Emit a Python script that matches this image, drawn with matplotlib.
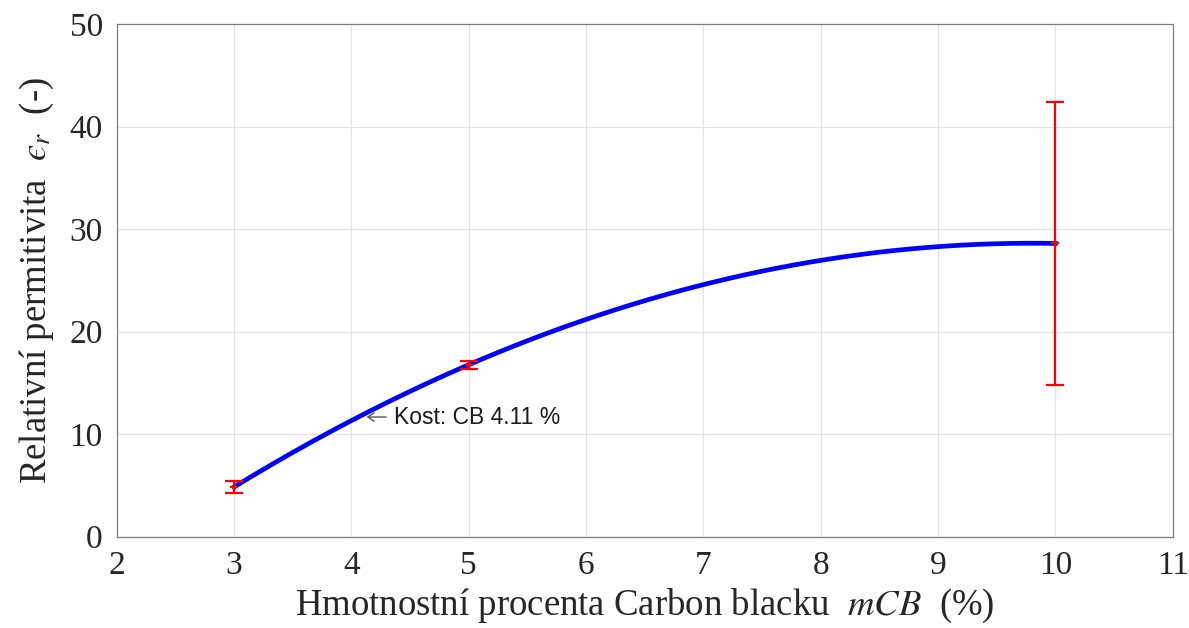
import numpy as np
import matplotlib
matplotlib.use("Agg")
import matplotlib.pyplot as plt

# Measured relative permittivity vs. carbon black mass fraction
cb_percent = [3, 5, 10]
permittivity = [4.85, 16.77, 28.6]
perm_error = [0.6, 0.4, 13.8]

# Point annotated on the fitted curve
cost_cb = 4.11
cost_label = "Kost: CB 4.11 %"

x_ticks = [2, 3, 4, 5, 6, 7, 8, 9, 10, 11]
y_ticks = [0, 10, 20, 30, 40, 50]

plt.rcParams["mathtext.fontset"] = "stix"
serif = ["Liberation Serif", "DejaVu Serif"]

fig = plt.figure(figsize=(11.89, 6.28), dpi=100)
ax = fig.add_axes([116.7 / 1189, 1 - 536.7 / 628, (1172.7 - 116.7) / 1189, (536.7 - 24) / 628])

# Quadratic fit through the measurements
coef = np.polyfit(cb_percent, permittivity, 2)
xs = np.linspace(min(cb_percent), max(cb_percent), 300)
ax.plot(xs, np.polyval(coef, xs), color="#0000ff", lw=3.4, zorder=3)

ax.errorbar(cb_percent, permittivity, yerr=perm_error, fmt="+", color="#ff0000",
            ecolor="#ff0000", elinewidth=1.6, capsize=6.5, capthick=1.6,
            markersize=6, mew=1.6, zorder=4)

# Label with a thin leftward arrow pointing at the curve
yc = np.polyval(coef, cost_cb) - 0.3
ax.annotate("", xy=(cost_cb + 0.02, yc), xytext=(14, 0), textcoords="offset points",
            arrowprops=dict(arrowstyle="->,head_length=0.45,head_width=0.3",
                            color="#555555", lw=1.0, shrinkA=0, shrinkB=0),
            zorder=5)
ax.annotate(cost_label, xy=(cost_cb, yc), xytext=(21.5, 0),
            textcoords="offset points", fontsize=16.5,
            family=["Liberation Sans", "DejaVu Sans"],
            va="center", ha="left", color="#1a1a1a", zorder=5)

ax.set_xlim(2, 11)
ax.set_ylim(0, 50)
ax.set_xticks(x_ticks)
ax.set_yticks(y_ticks)
ax.grid(True, color="#e3e3e3", lw=0.9)
ax.set_axisbelow(True)
for s in ax.spines.values():
    s.set_color("#7f7f7f")
    s.set_linewidth(0.9)
ax.tick_params(direction="in", length=0, labelsize=24, colors="#262626", pad=10)
for lab in ax.get_xticklabels() + ax.get_yticklabels():
    lab.set_fontfamily(serif)

ax.set_xlabel(r"Hmotnostní procenta Carbon blacku  $mCB$  (%)", fontsize=26.5,
              family=serif, color="#262626", labelpad=4)
ax.set_ylabel("Relativní permitivita  $\u03f5_r$  (-)", fontsize=26.5,
              family=serif, color="#262626", labelpad=10)

fig.savefig("out.png", dpi=100)
